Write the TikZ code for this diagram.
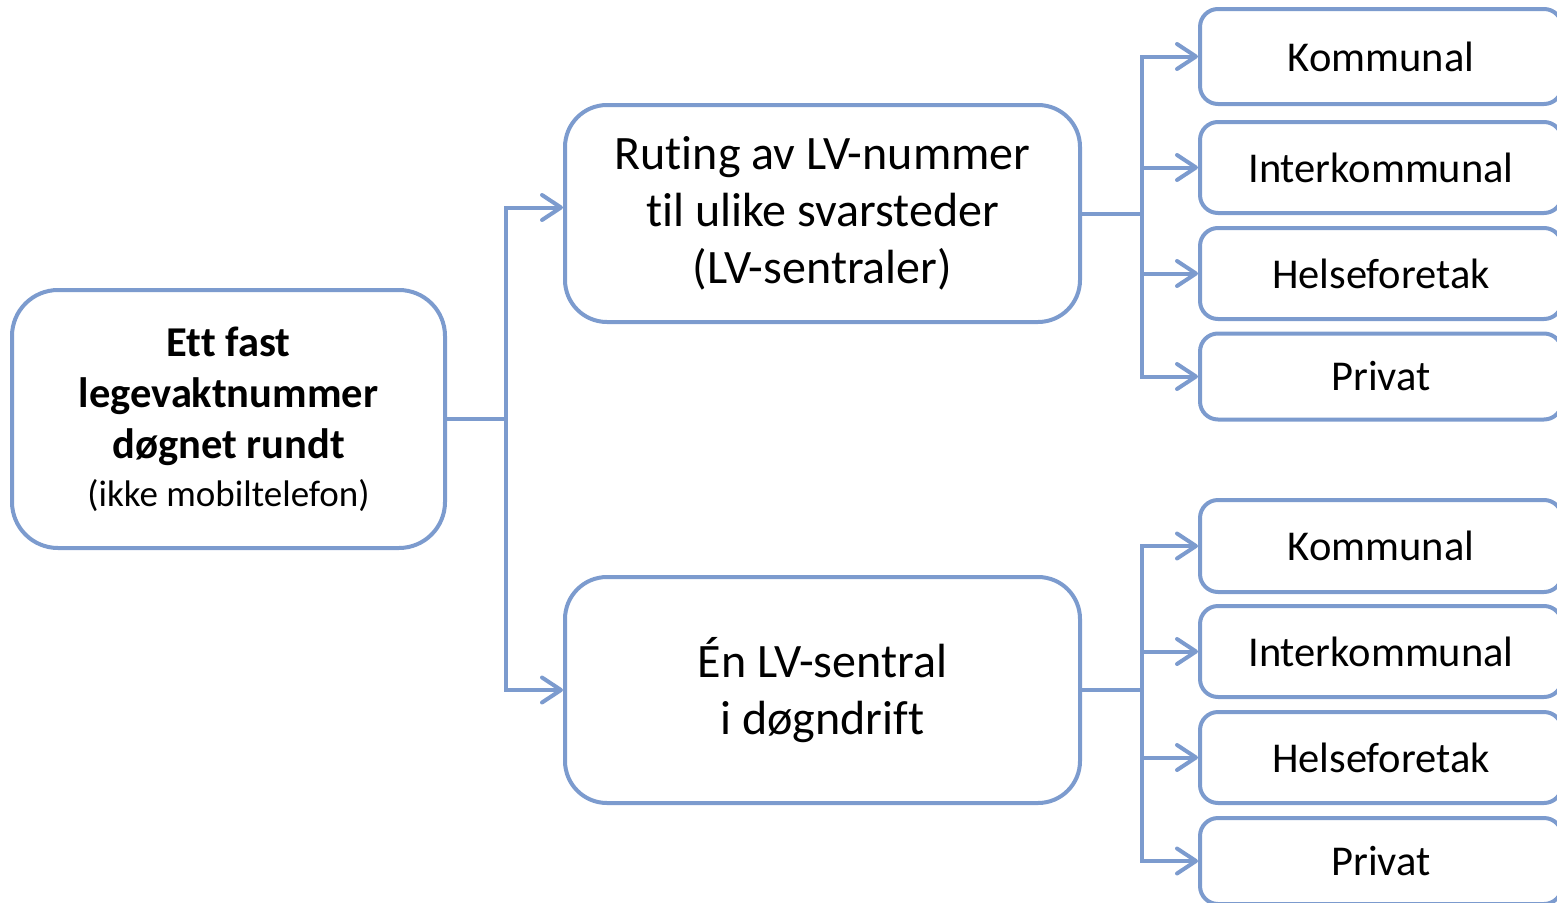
\documentclass[tikz,border=0pt]{standalone}
\usepackage{fontspec}
\setmainfont[Ligatures=NoCommon]{Carlito}
\usetikzlibrary{arrows.meta}
\definecolor{lc}{RGB}{124,155,206}
\tikzset{
  box/.style={draw=lc, line width=4pt, fill=white, align=center, inner sep=0pt, text=black},
  rootbox/.style={box, rounded corners=46pt, minimum width=433pt, minimum height=258pt},
  midbox/.style={box, rounded corners=42pt, minimum width=515pt, font=\fontsize{48}{57}\selectfont},
  leaf/.style={box, rounded corners=18pt, minimum width=362pt, minimum height=91pt, font=\fontsize{42.5}{50}\selectfont},
  conn/.style={draw=lc, line width=4pt},
  arr/.style={conn, -{Straight Barb[length=19pt,width=25pt,round]}}
}
\begin{document}
\begin{tikzpicture}[x=1pt,y=-1pt]
\useasboundingbox (0,0) rectangle (1557,902);
\clip (0,0) rectangle (1557,902);
\node[rootbox, font=\fontsize{42.5}{51}\selectfont] (root) at (228.5,419) {\bfseries Ett fast\\ \bfseries legevaktnummer\\ \bfseries døgnet rundt\\[-3pt] \fontsize{37}{44}\selectfont (ikke mobiltelefon)};
\node[midbox, minimum height=217pt] (mid1) at (822.5,213.5) {Ruting av LV-nummer\\ til ulike svarsteder\\ (LV-sentraler)};
\node[midbox, minimum height=226pt] (mid2) at (822.5,690) {Én LV-sentral\\ i døgndrift};
\node[leaf, minimum height=95pt] (k1) at (1381,56.5) {Kommunal};
\node[leaf] (i1) at (1381,167.5) {Interkommunal};
\node[leaf] (h1) at (1381,273.5) {Helseforetak};
\node[leaf, minimum height=86pt] (p1) at (1381,376.5) {Privat};
\node[leaf, minimum height=92pt] (k2) at (1381,546) {Kommunal};
\node[leaf] (i2) at (1381,651.5) {Interkommunal};
\node[leaf] (h2) at (1381,757.5) {Helseforetak};
\node[leaf, minimum height=86pt] (p2) at (1381,861) {Privat};
\draw[conn] (root.east) -- ++(59,0) coordinate (j0);
\draw[arr] (j0) |- ([yshift=6pt]mid1.west);
\draw[arr] (j0) |- (mid2.west);
\draw[conn] (mid1.east) -- ++(60,0) coordinate (j1);
\draw[arr] (j1) |- (k1.west);
\draw[arr] (j1) |- (i1.west);
\draw[arr] (j1) |- (h1.west);
\draw[arr] (j1) |- (p1.west);
\draw[conn] (mid2.east) -- ++(60,0) coordinate (j2);
\draw[arr] (j2) |- (k2.west);
\draw[arr] (j2) |- (i2.west);
\draw[arr] (j2) |- (h2.west);
\draw[arr] (j2) |- (p2.west);
\end{tikzpicture}
\end{document}
